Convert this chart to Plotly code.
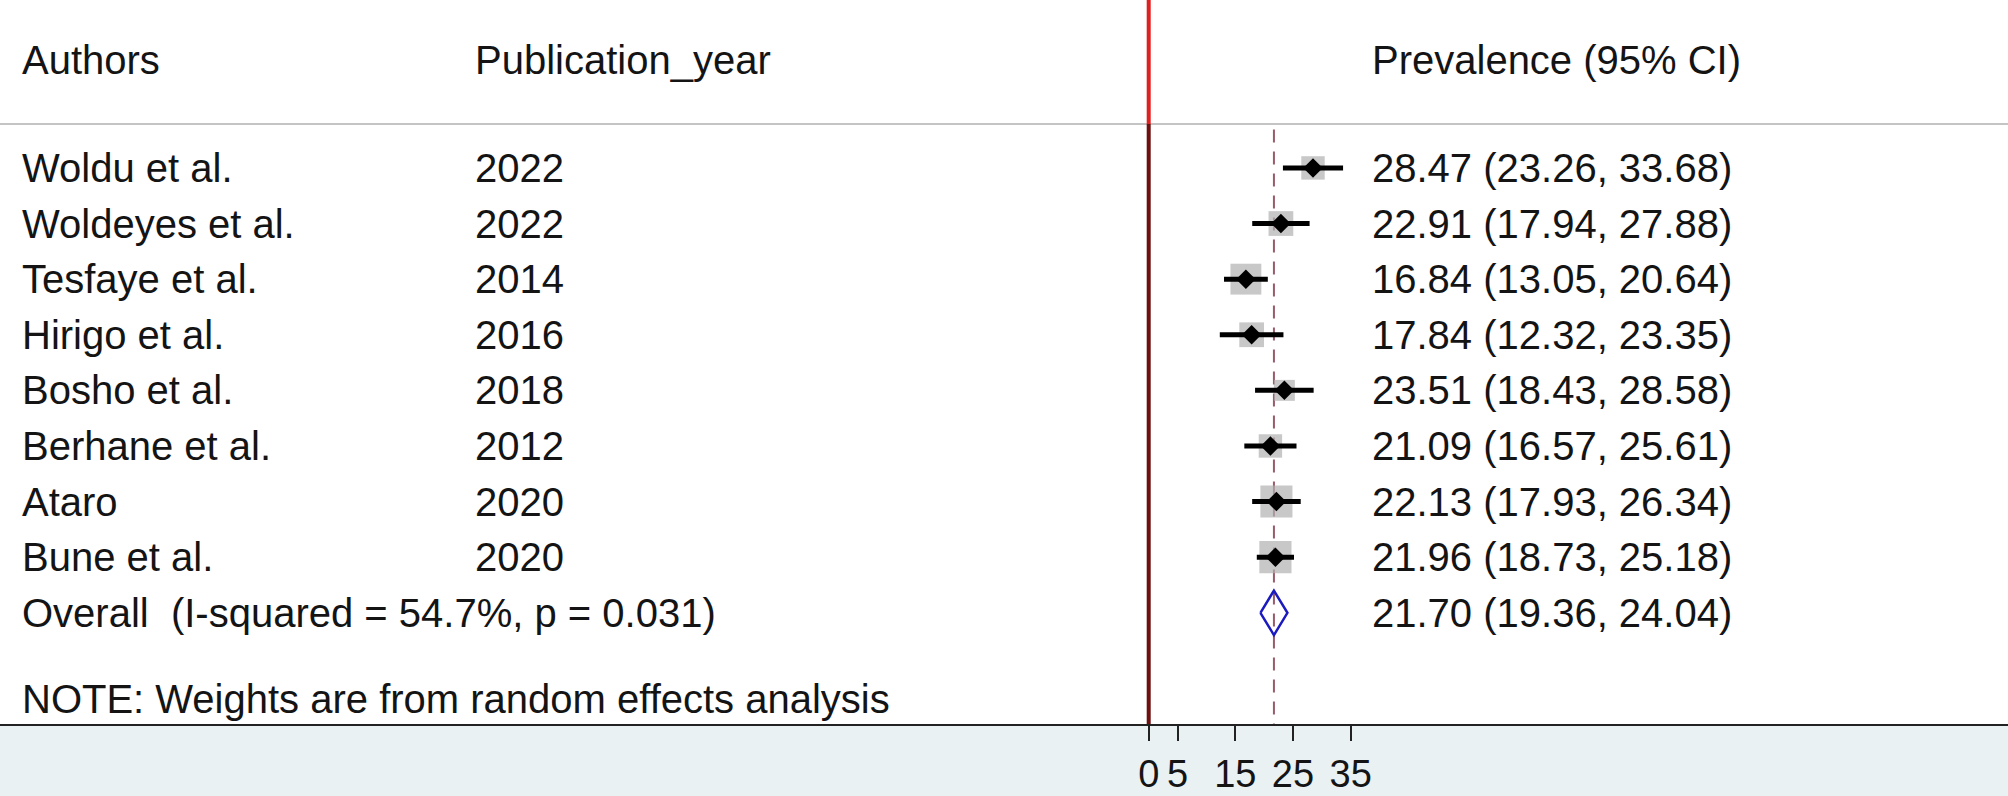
import plotly.graph_objects as go

# ---------------- data ----------------
authors = ["Woldu et al.", "Woldeyes et al.", "Tesfaye et al.", "Hirigo et al.",
           "Bosho et al.", "Berhane et al.", "Ataro", "Bune et al."]
years = ["2022", "2022", "2014", "2016", "2018", "2012", "2020", "2020"]
prevalence = [28.47, 22.91, 16.84, 17.84, 23.51, 21.09, 22.13, 21.96]
ci_low = [23.26, 17.94, 13.05, 12.32, 18.43, 16.57, 17.93, 18.73]
ci_high = [33.68, 27.88, 20.64, 23.35, 28.58, 25.61, 26.34, 25.18]
weights = [9.5, 10.6, 16.5, 10.6, 7.6, 9.5, 17.8, 17.9]  # estimated % (box areas)

overall_label = "Overall\u00a0\u00a0(I-squared = 54.7%, p = 0.031)"
overall_est, overall_low, overall_high = 21.70, 19.36, 24.04
note = "NOTE: Weights are from random effects analysis"
headers = ["Authors", "Publication_year", "Prevalence (95% CI)"]
tick_vals = [0, 5, 15, 25, 35]

# ---------------- styling ----------------
FONT = "Liberation Sans, Arial, sans-serif"
FS = 40
TXT = "#141414"
rows = list(range(len(authors)))
overall_row = len(authors)

fig = go.Figure()

# weight boxes
fig.add_trace(go.Scatter(
    x=prevalence, y=rows, mode="markers",
    marker=dict(symbol="square", size=[7.6 * w ** 0.5 for w in weights],
                color="#b0b0b0", line=dict(width=0)),
    hoverinfo="skip", showlegend=False))

# confidence intervals
for lo, hi, r in zip(ci_low, ci_high, rows):
    fig.add_trace(go.Scatter(x=[lo, hi], y=[r, r], mode="lines",
                             line=dict(color="black", width=5),
                             hoverinfo="skip", showlegend=False))

# point estimates
fig.add_trace(go.Scatter(
    x=prevalence, y=rows, mode="markers",
    marker=dict(symbol="diamond", size=15, color="black"),
    hoverinfo="skip", showlegend=False))

# overall diamond
h = 0.4
fig.add_trace(go.Scatter(
    x=[overall_low, overall_est, overall_high, overall_est, overall_low],
    y=[overall_row, overall_row - h, overall_row, overall_row + h, overall_row],
    mode="lines", line=dict(color="#1a1ac0", width=2.5),
    hoverinfo="skip", showlegend=False))

Y_TOP, Y_BOT = -3.02, 10.0
HEADER_LINE = -0.79

shapes = [
    # header separator
    dict(type="line", xref="paper", x0=0, x1=1, yref="y", y0=HEADER_LINE, y1=HEADER_LINE,
         line=dict(color="#c4c4c4", width=2), layer="below"),
    # null line (red above header, dark below)
    dict(type="line", xref="x", x0=0, x1=0, yref="y", y0=Y_TOP, y1=HEADER_LINE,
         line=dict(color="#e02020", width=4)),
    dict(type="line", xref="x", x0=0, x1=0, yref="y", y0=HEADER_LINE, y1=Y_BOT,
         line=dict(color="#6e1010", width=4)),
    # overall estimate dashed line
    dict(type="line", xref="x", x0=overall_est, x1=overall_est, yref="y",
         y0=HEADER_LINE + 0.1, y1=Y_BOT,
         line=dict(color="#9a5a6a", width=2, dash="13px,9px"), layer="below"),
]

ann = []
def txt(x, y, s, xref="paper"):
    ann.append(dict(x=x, y=y, xref=xref, yref="y", text=s, showarrow=False,
                    xanchor="left", yanchor="middle",
                    font=dict(family=FONT, size=FS, color=TXT)))

COL1, COL2, COL3 = 20 / 2008, 473 / 2008, 1370 / 2008
HEADER_ROW = -1.94
txt(COL1, HEADER_ROW, headers[0])
txt(COL2, HEADER_ROW, headers[1])
txt(COL3, HEADER_ROW, headers[2])
for a, yv, p, lo, hi, r in zip(authors, years, prevalence, ci_low, ci_high, rows):
    txt(COL1, r, a)
    txt(COL2, r, yv)
    txt(COL3, r, f"{p:.2f} ({lo:.2f}, {hi:.2f})")
txt(COL1, overall_row, overall_label)
txt(COL3, overall_row, f"{overall_est:.2f} ({overall_low:.2f}, {overall_high:.2f})")
txt(COL1, 9.55, note)

x_left = -1148.7 / 5.771
x_right = (2008 - 1148.7) / 5.771

fig.update_layout(
    width=2008, height=796,
    margin=dict(l=0, r=0, t=0, b=72, pad=0, autoexpand=False),
    paper_bgcolor="#eaf1f3", plot_bgcolor="white",
    font=dict(family=FONT, size=FS, color=TXT),
    xaxis=dict(range=[x_left, x_right], tickvals=tick_vals,
               ticktext=[str(v) for v in tick_vals],
               ticks="outside", ticklen=15, tickwidth=2, tickcolor="#222",
               ticklabelstandoff=0, automargin=False,
               showline=True, linecolor="#222", linewidth=2,
               showgrid=False, zeroline=False,
               tickfont=dict(family=FONT, size=38, color=TXT)),
    yaxis=dict(range=[Y_BOT, Y_TOP], visible=False, showgrid=False, zeroline=False,
               automargin=False),
    shapes=shapes, annotations=ann, showlegend=False,
)

fig.write_html("out.html", config={"displayModeBar": False},
               post_script="document.body.style.margin='0';document.body.style.overflow='hidden';")
